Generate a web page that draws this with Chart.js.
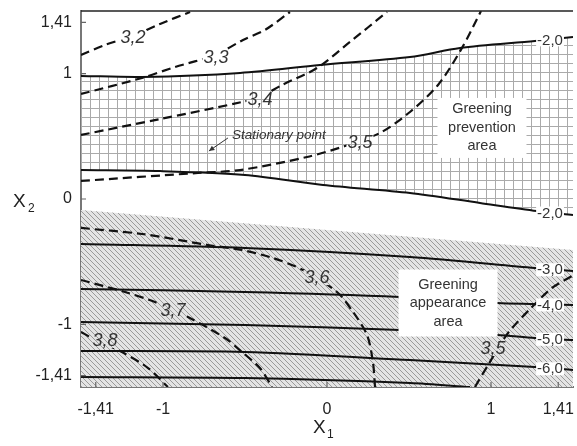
<!DOCTYPE html>
<html>
<head>
<meta charset="utf-8">
<script src="https://cdn.jsdelivr.net/npm/chart.js@4"></script>
<style>
  body { margin: 0; background: #fff; }
  canvas { display: block; }
</style>
</head>
<body>
<canvas id="chart" width="577" height="446"></canvas>
<script>
// tick values and their printed labels
const xTicks = [-1.41, -1, 0, 1, 1.41];
const xTickText = ["-1,41", "-1", "0", "1", "1,41"];
const yTicks = [-1.41, -1, 0, 1, 1.41];
const yTickText = ["-1,41", "-1", "0", "1", "1,41"];

// solid contours (greening), X1 / X2
const upperX = [-1.5, -1.128, -0.53, -0.043, 0.506, 0.811, 1.268, 1.5];
const upperY = [0.982, 0.974, 1.006, 1.069, 1.133, 1.205, 1.261, 1.293];
const lowerX = [-1.5, -1.018, -0.5, -0.024, 0.506, 0.933, 1.28, 1.5];
const lowerY = [0.231, 0.223, 0.192, 0.112, 0.048, -0.032, -0.096, -0.128];
const hatchTopX = [-1.5, 1.5];
const hatchTopY = [-0.088, -0.407];
const c30X = [-1.5, -0.5, 0.506, 1.268, 1.5];
const c30Y = [-0.359, -0.391, -0.463, -0.551, -0.575];
const c40X = [-1.5, -0.5, 0.445, 1.037, 1.268, 1.5];
const c40Y = [-0.718, -0.742, -0.782, -0.83, -0.838, -0.846];
const c50X = [-1.5, -0.5, 0.445, 1.037, 1.268, 1.5];
const c50Y = [-0.982, -1.006, -1.045, -1.085, -1.109, -1.125];
const c60X = [-1.5, -0.5, 0.506, 1.268, 1.5];
const c60Y = [-1.213, -1.221, -1.285, -1.341, -1.365];
const c70X = [-1.5, -0.5, 0.506, 0.872];
const c70Y = [-1.421, -1.429, -1.468, -1.5];
const solidText = ["-2,0", "-2,0", "-3,0", "-4,0", "-5,0", "-6,0"];

// dashed contours (response)
const d32X = [-1.5, -1.354, -1.183, -1.018, -0.835];
const d32Y = [1.149, 1.229, 1.301, 1.397, 1.492];
const d33X = [-1.5, -1.128, -0.927, -0.683, -0.512, -0.378, -0.226];
const d33Y = [0.838, 0.966, 1.053, 1.149, 1.269, 1.349, 1.492];
const d34X = [-1.5, -1.018, -0.518, -0.396, -0.274, -0.061, 0.14, 0.366];
const d34Y = [0.511, 0.638, 0.774, 0.822, 0.91, 1.045, 1.253, 1.492];
const d35aX = [-1.5, -0.787, -0.53, -0.122, 0.11, 0.323, 0.506, 0.677, 0.823, 0.939];
const d35aY = [0.144, 0.208, 0.231, 0.335, 0.423, 0.527, 0.694, 0.91, 1.205, 1.5];
const d36X = [-1.5, -1.128, -0.726, -0.518, -0.329, -0.146, 0.061, 0.159, 0.244, 0.28, 0.293];
const d36Y = [-0.231, -0.279, -0.367, -0.407, -0.471, -0.567, -0.742, -0.902, -1.085, -1.301, -1.5];
const d37X = [-1.5, -1.232, -1.049, -0.848, -0.622, -0.518, -0.409, -0.335];
const d37Y = [-0.646, -0.742, -0.822, -0.942, -1.109, -1.221, -1.349, -1.5];
const d38X = [-1.5, -1.433, -1.25, -1.091, -0.97];
const d38Y = [-1.061, -1.109, -1.221, -1.349, -1.5];
const d35bX = [0.902, 0.982, 1.104, 1.25, 1.372, 1.5];
const d35bY = [-1.5, -1.325, -1.069, -0.862, -0.71, -0.61];
const dashedText = ["3,2", "3,3", "3,4", "3,5", "3,6", "3,7", "3,8", "3,5"];

const FONT = "'Liberation Sans', Arial, sans-serif";
const pts = (xs, ys) => xs.map((x, i) => ({ x, y: ys[i] }));

function makeGrid() {
    const c = document.createElement("canvas");
    c.width = 9; c.height = 9;
    const g = c.getContext("2d");
    g.fillStyle = "#fff";
    g.fillRect(0, 0, 9, 9);
    g.fillStyle = "#aaaaaa";
    g.fillRect(0, 0, 1, 9);
    g.fillRect(0, 0, 9, 1);
    return g.createPattern(c, "repeat");
}

function makeHatch() {
    const c = document.createElement("canvas");
    c.width = 5; c.height = 5;
    const g = c.getContext("2d");
    g.fillStyle = "#e4e4e4";
    g.fillRect(0, 0, 5, 5);
    g.strokeStyle = "#9a9a9a";
    g.lineWidth = 1;
    g.beginPath();
    for (let k = -5; k <= 5; k += 5) {
        g.moveTo(k - 1, -1);
        g.lineTo(k + 6, 6);
    }
    g.stroke();
    return g.createPattern(c, "repeat");
}

const gridFill = makeGrid();
const hatchFill = makeHatch();

const solid = (xs, ys) => ({
    data: pts(xs, ys), showLine: true, borderColor: "#111", borderWidth: 2,
    pointRadius: 0, tension: 0.3, fill: false,
});
const dashed = (xs, ys) => ({
    data: pts(xs, ys), showLine: true, borderColor: "#111", borderWidth: 2.2,
    borderDash: [9, 5], pointRadius: 0, tension: 0.3, fill: false,
});

const upperSet = solid(upperX, upperY);
upperSet.fill = 1;
upperSet.backgroundColor = gridFill;

const hatchSet = {
    data: pts(hatchTopX, hatchTopY), showLine: true, borderWidth: 0,
    borderColor: "rgba(0,0,0,0)", pointRadius: 0, fill: "start", backgroundColor: hatchFill,
};

const solidSets = [upperSet, solid(lowerX, lowerY), hatchSet,
    solid(c30X, c30Y), solid(c40X, c40Y), solid(c50X, c50Y), solid(c60X, c60Y), solid(c70X, c70Y)];
const dashedSets = [dashed(d32X, d32Y), dashed(d33X, d33Y), dashed(d34X, d34Y), dashed(d35aX, d35aY),
    dashed(d36X, d36Y), dashed(d37X, d37Y), dashed(d38X, d38Y), dashed(d35bX, d35bY)];

// y of a polyline at a given x (linear between read points)
function yAt(xs, ys, x) {
    for (let i = 1; i < xs.length; i++) {
        if (x <= xs[i]) {
            const t = (x - xs[i - 1]) / (xs[i] - xs[i - 1]);
            return ys[i - 1] + t * (ys[i] - ys[i - 1]);
        }
    }
    return ys[ys.length - 1];
}

const annotate = {
    id: "annotate",
    afterDatasetsDraw(chart) {
        const ctx = chart.ctx;
        const xs = chart.scales.x, ys = chart.scales.y;
        const a = chart.chartArea;
        const px = (v) => xs.getPixelForValue(v);
        const py = (v) => ys.getPixelForValue(v);
        ctx.save();

        // top frame line
        ctx.strokeStyle = "#222";
        ctx.lineWidth = 1.5;
        ctx.beginPath();
        ctx.moveTo(a.left, a.top);
        ctx.lineTo(a.right, a.top);
        ctx.stroke();

        // inward tick marks
        ctx.strokeStyle = "#666";
        ctx.lineWidth = 1.2;
        ctx.beginPath();
        xTicks.forEach((v) => { ctx.moveTo(px(v), a.bottom); ctx.lineTo(px(v), a.bottom - 5); });
        yTicks.forEach((v) => { ctx.moveTo(a.left, py(v)); ctx.lineTo(a.left + 5, py(v)); });
        ctx.stroke();

        // contour labels on dashed lines
        const dashedPos = [[-1.183, 1.293, "#fff"], [-0.677, 1.133, "#fff"], [-0.409, 0.798, gridFill],
            [0.201, 0.455, gridFill], [-0.061, -0.623, hatchFill], [-0.939, -0.886, hatchFill],
            [-1.354, -1.125, hatchFill], [1.012, -1.189, hatchFill]];
        ctx.font = "italic 18px " + FONT;
        ctx.textAlign = "center";
        ctx.textBaseline = "middle";
        dashedText.forEach((t, i) => {
            const [x, y, bg] = dashedPos[i];
            const w = ctx.measureText(t).width;
            ctx.fillStyle = bg;
            ctx.fillRect(px(x) - w / 2 - 1, py(y) - 7, w + 2, 15);
            ctx.fillStyle = "#333";
            ctx.fillText(t, px(x), py(y) + 1);
        });

        // labels at right end of solid lines
        const lines = [[upperX, upperY], [lowerX, lowerY], [c30X, c30Y], [c40X, c40Y], [c50X, c50Y], [c60X, c60Y]];
        ctx.font = "15px " + FONT;
        solidText.forEach((t, i) => {
            const xv = 1.36;
            const yv = yAt(lines[i][0], lines[i][1], xv);
            const w = ctx.measureText(t).width;
            ctx.fillStyle = "#fff";
            ctx.fillRect(px(xv) - w / 2 - 1, py(yv) - 6, w + 2, 13);
            ctx.fillStyle = "#333";
            ctx.fillText(t, px(xv), py(yv) + 1);
        });

        // area captions
        const box = (cx, cy, w, h, rows) => {
            ctx.fillStyle = "#fff";
            ctx.fillRect(px(cx) - w / 2, py(cy) - h / 2, w, h);
            ctx.fillStyle = "#333";
            ctx.font = "14.5px " + FONT;
            rows.forEach((r, i) => ctx.fillText(r, px(cx), py(cy) + (i - 1) * 18.5));
        };
        box(0.945, 0.567, 89, 60, ["Greening", "prevention", "area"]);
        box(0.738, -0.83, 99, 67, ["Greening", "appearance", "area"]);

        // stationary point note
        ctx.font = "italic 13.5px " + FONT;
        ctx.textAlign = "left";
        ctx.fillStyle = "#333";
        ctx.fillText("Stationary point", px(-0.579), py(0.511));
        const x0 = px(-0.604), y0 = py(0.487), x1 = px(-0.72), y1 = py(0.383);
        ctx.strokeStyle = "#333";
        ctx.lineWidth = 1;
        ctx.beginPath();
        ctx.moveTo(x0, y0);
        ctx.lineTo(x1, y1);
        ctx.stroke();
        const ang = Math.atan2(y1 - y0, x1 - x0);
        ctx.beginPath();
        ctx.moveTo(x1, y1);
        ctx.lineTo(x1 - 6 * Math.cos(ang - 0.45), y1 - 6 * Math.sin(ang - 0.45));
        ctx.lineTo(x1 - 6 * Math.cos(ang + 0.45), y1 - 6 * Math.sin(ang + 0.45));
        ctx.closePath();
        ctx.fill();

        // axis titles
        ctx.textAlign = "left";
        ctx.textBaseline = "alphabetic";
        ctx.font = "19px " + FONT;
        ctx.fillStyle = "#222";
        ctx.fillText("X", 13, 207);
        ctx.fillText("X", 313, 433);
        ctx.font = "12px " + FONT;
        ctx.fillText("2", 28, 212);
        ctx.fillText("1", 327, 438);
        ctx.restore();
    },
};

new Chart(document.getElementById("chart"), {
    type: "scatter",
    data: { datasets: [...solidSets, ...dashedSets] },
    options: {
        responsive: false,
        animation: false,
        devicePixelRatio: 1,
        layout: { padding: { top: 11, right: 4, left: 0, bottom: 0 } },
        plugins: {
            legend: { display: false },
            tooltip: { enabled: false },
            filler: { drawTime: "beforeDatasetsDraw" },
        },
        scales: {
            x: {
                type: "linear", min: -1.5, max: 1.5,
                afterBuildTicks: (s) => { s.ticks = xTicks.map((v) => ({ value: v })); },
                afterFit: (s) => { s.height = 59; s.paddingLeft = 0; s.paddingRight = 0; },
                grid: { drawOnChartArea: false, drawTicks: false },
                border: { color: "#777", width: 2 },
                ticks: {
                    padding: 13, color: "#222", font: { size: 16, family: FONT },
                    callback: (v) => xTickText[xTicks.indexOf(v)],
                },
            },
            y: {
                type: "linear", min: -1.5, max: 1.5,
                afterBuildTicks: (s) => { s.ticks = yTicks.map((v) => ({ value: v })); },
                afterFit: (s) => { s.width = 81; s.paddingTop = 0; s.paddingBottom = 0; },
                grid: { drawOnChartArea: false, drawTicks: false },
                border: { color: "#777", width: 2 },
                ticks: {
                    padding: 9, color: "#222", font: { size: 16, family: FONT },
                    callback: (v) => yTickText[yTicks.indexOf(v)],
                },
            },
        },
    },
    plugins: [annotate],
});
</script>
</body>
</html>
